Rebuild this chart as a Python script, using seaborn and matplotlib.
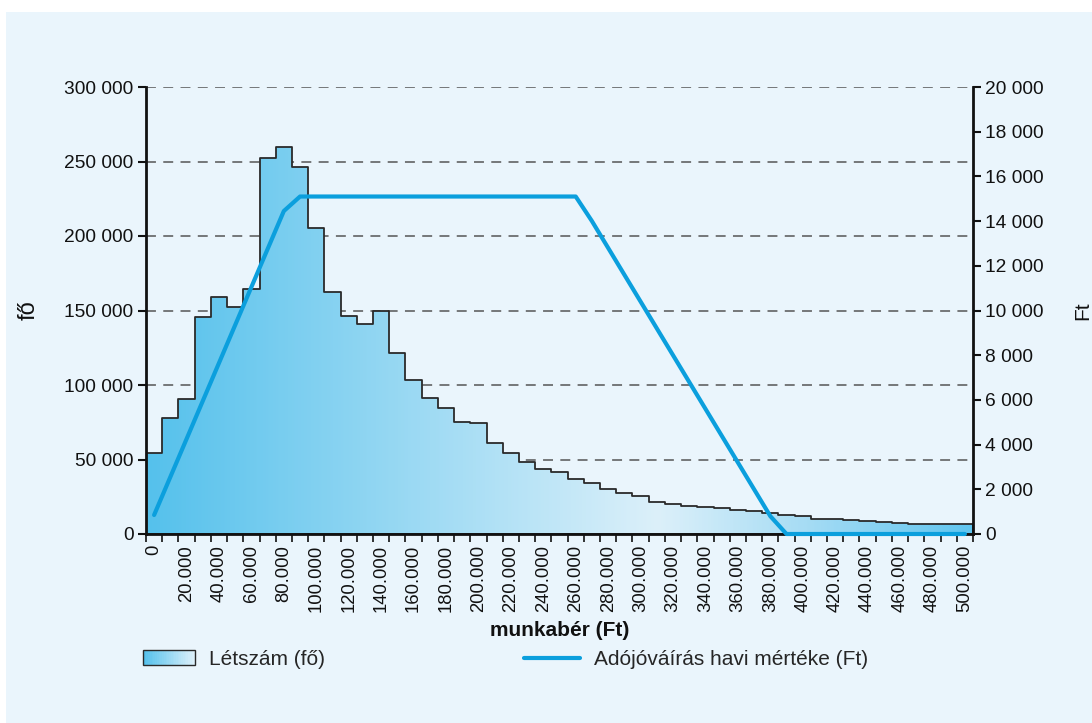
import numpy as np
import matplotlib
matplotlib.use("Agg")
import matplotlib.pyplot as plt
import seaborn as sns
from matplotlib.colors import LinearSegmentedColormap
from matplotlib.patches import Rectangle
from matplotlib.lines import Line2D
from matplotlib.legend_handler import HandlerBase
from matplotlib.ticker import FuncFormatter

# ---------------- data ----------------
bin_start = [0, 10000, 20000, 30000, 40000, 50000, 60000, 70000, 80000, 90000,
             100000, 110000, 120000, 130000, 140000, 150000, 160000, 170000, 180000, 190000,
             200000, 210000, 220000, 230000, 240000, 250000, 260000, 270000, 280000, 290000,
             300000, 310000, 320000, 330000, 340000, 350000, 360000, 370000, 380000, 390000,
             400000, 410000, 420000, 430000, 440000, 450000, 460000, 470000, 480000, 490000,
             500000]
bin_width = 10000

letszam = [54500, 77600, 90400, 145800, 158800, 152600, 164200, 252300, 259900, 246100,
           205600, 162600, 146300, 141100, 149900, 121300, 103400, 91500, 84300, 75200,
           74300, 60800, 54600, 48300, 43800, 41800, 36700, 34000, 30200, 27700,
           25700, 21500, 20100, 18600, 18300, 17500, 16100, 15200, 13900, 12500,
           12300, 10300, 10100, 9200, 8500, 8300, 7600, 6700, 6700, 6700,
           6700]

adojovairas = [850, 2550, 4250, 5950, 7650, 9350, 11050, 12750, 14450, 15100,
               15100, 15100, 15100, 15100, 15100, 15100, 15100, 15100, 15100, 15100,
               15100, 15100, 15100, 15100, 15100, 15100, 15100, 14000, 12800, 11600,
               10400, 9200, 8000, 6800, 5600, 4400, 3200, 2000, 800, 0,
               0, 0, 0, 0, 0, 0, 0, 0, 0, 0,
               0]

left_ticks = [0, 50000, 100000, 150000, 200000, 250000, 300000]
right_ticks = [0, 2000, 4000, 6000, 8000, 10000, 12000, 14000, 16000, 18000, 20000]

label_hist = "Létszám (fő)"
label_line = "Adójóváírás havi mértéke (Ft)"
xlabel = "munkabér (Ft)"
ylabel_left = "fő"
ylabel_right = "Ft"

# ---------------- style ----------------
sns.set_theme(style="ticks")
plt.rcParams["font.family"] = ["Liberation Sans", "DejaVu Sans"]

BG = "#eaf5fc"
LINE_C = "#0b9fdd"
EDGE_C = "#2a2a2a"
TXT = "#111111"
cmap = LinearSegmentedColormap.from_list(
    "grad", [(0.0, "#55c1ec"), (0.62, "#dcf0fa"), (0.80, "#a6dcf4"), (1.0, "#60c5ef")])

fig = plt.figure(figsize=(10.92, 7.23), dpi=100, facecolor="white")
fig.patches.append(Rectangle((6 / 1092, 0), 1, (723 - 12) / 723, transform=fig.transFigure,
                             facecolor=BG, edgecolor="none", zorder=-10))

ax = fig.add_axes([146 / 1092, (723 - 534) / 723, (973 - 146) / 1092, (534 - 87) / 723])
ax.set_facecolor("none")

centers = np.array(bin_start) + bin_width / 2
edges = list(bin_start) + [bin_start[-1] + bin_width]

# histogram (step) through seaborn, filled with a horizontal gradient
sns.histplot(x=centers, weights=letszam, bins=edges, element="step", fill=True,
             color="#8fd3f1", alpha=1, edgecolor=EDGE_C, linewidth=1.3, ax=ax, zorder=2)
poly = ax.collections[-1]
path = poly.get_paths()[0]
xmin, xmax = edges[0], edges[-1]
grad = np.linspace(0, 1, 600).reshape(1, -1)
im = ax.imshow(grad, cmap=cmap, extent=[xmin, xmax, 0, 300000], aspect="auto",
               origin="lower", zorder=1.9, interpolation="bilinear")
im.set_clip_path(path, ax.transData)
poly.set_facecolor("none")

ax.set_xlim(xmin, xmax)
ax.set_ylim(0, 300000)

# gridlines
ax.set_yticks(left_ticks)
ax.yaxis.grid(True, linestyle=(0, (6.5, 4.8)), color="#555555", linewidth=1.1, zorder=0)
ax.set_axisbelow(True)
ax.yaxis.set_major_formatter(FuncFormatter(lambda v, p: f"{int(v):,}".replace(",", " ")))

# x ticks: labels at every second bin centre, marks at bin edges
ax.set_xticks(centers[::2])
ax.set_xticklabels(["0" if v == 0 else f"{v:,}".replace(",", ".") for v in bin_start[::2]],
                   rotation=90)
ax.set_xticks(edges, minor=True)
ax.tick_params(axis="x", which="major", length=0, pad=8, labelsize=13.3, colors=TXT)
ax.tick_params(axis="x", which="minor", length=6, width=1.2, direction="out", color=TXT)
ax.tick_params(axis="y", which="major", length=6, width=1.5, direction="out", labelsize=13.8,
               colors=TXT, pad=3)

for s in ["top", "right"]:
    ax.spines[s].set_visible(False)
for s in ["left", "bottom"]:
    ax.spines[s].set_linewidth(2)
    ax.spines[s].set_color(TXT)
    ax.spines[s].set_zorder(5)

ax.set_xlabel(xlabel, fontsize=15, fontweight="bold", color=TXT)
ax.xaxis.set_label_coords(0.5, (534 - 631) / 447)
ax.xaxis.label.set_va("center")
ax.set_ylabel(ylabel_left, fontsize=17, color=TXT)
ax.yaxis.set_label_coords((29 - 146) / 827, 0.5)
ax.yaxis.label.set_va("center")

# line on secondary axis
ax2 = ax.twinx()
ax2.set_facecolor("none")
sns.lineplot(x=centers, y=adojovairas, color=LINE_C, linewidth=3, ax=ax2, clip_on=False,
             solid_joinstyle="round", solid_capstyle="round", zorder=6)
ax2.set_ylim(0, 20000)
ax2.set_xlim(xmin, xmax)
ax2.set_yticks(right_ticks)
ax2.yaxis.set_major_formatter(FuncFormatter(lambda v, p: f"{int(v):,}".replace(",", " ")))
ax2.tick_params(axis="y", length=6, width=1.5, direction="out", labelsize=13.8,
                colors=TXT, pad=3)
for s in ["top", "left", "bottom"]:
    ax2.spines[s].set_visible(False)
ax2.spines["right"].set_linewidth(2)
ax2.spines["right"].set_color(TXT)
ax2.set_ylabel(ylabel_right, fontsize=15, color=TXT)
ax2.yaxis.set_label_coords((1083 - 146) / 827, 0.5)
ax2.yaxis.label.set_va("center")
ax2.grid(False)


# legends
class GradHandler(HandlerBase):
    def create_artists(self, legend, orig_handle, xdescent, ydescent, width, height,
                       fontsize, trans):
        arts = []
        n = 30
        for i in range(n):
            r = Rectangle((-xdescent + i * width / n, -ydescent), width / n + 0.3, height,
                          facecolor=cmap(0.62 * i / (n - 1)), edgecolor="none", transform=trans)
            arts.append(r)
        arts.append(Rectangle((-xdescent, -ydescent), width, height, facecolor="none",
                              edgecolor=EDGE_C, linewidth=1.0, transform=trans))
        return arts


proxy_hist = Rectangle((0, 0), 1, 1)
leg1 = fig.legend(handles=[proxy_hist], labels=[label_hist], loc="upper left",
                  bbox_to_anchor=(143 / 1092, (723 - 650) / 723), frameon=False,
                  borderpad=0, borderaxespad=0, handlelength=2.5, handleheight=0.75,
                  handletextpad=0.67, fontsize=15, handler_map={Rectangle: GradHandler()})
proxy_line = Line2D([0], [0], color=LINE_C, linewidth=3)
leg2 = fig.legend(handles=[proxy_line], labels=[label_line], loc="upper left",
                  bbox_to_anchor=(524 / 1092, (723 - 650) / 723), frameon=False,
                  borderpad=0, borderaxespad=0, handlelength=2.67, handletextpad=0.7,
                  fontsize=15)

fig.savefig("out.png", dpi=100, facecolor="white")
